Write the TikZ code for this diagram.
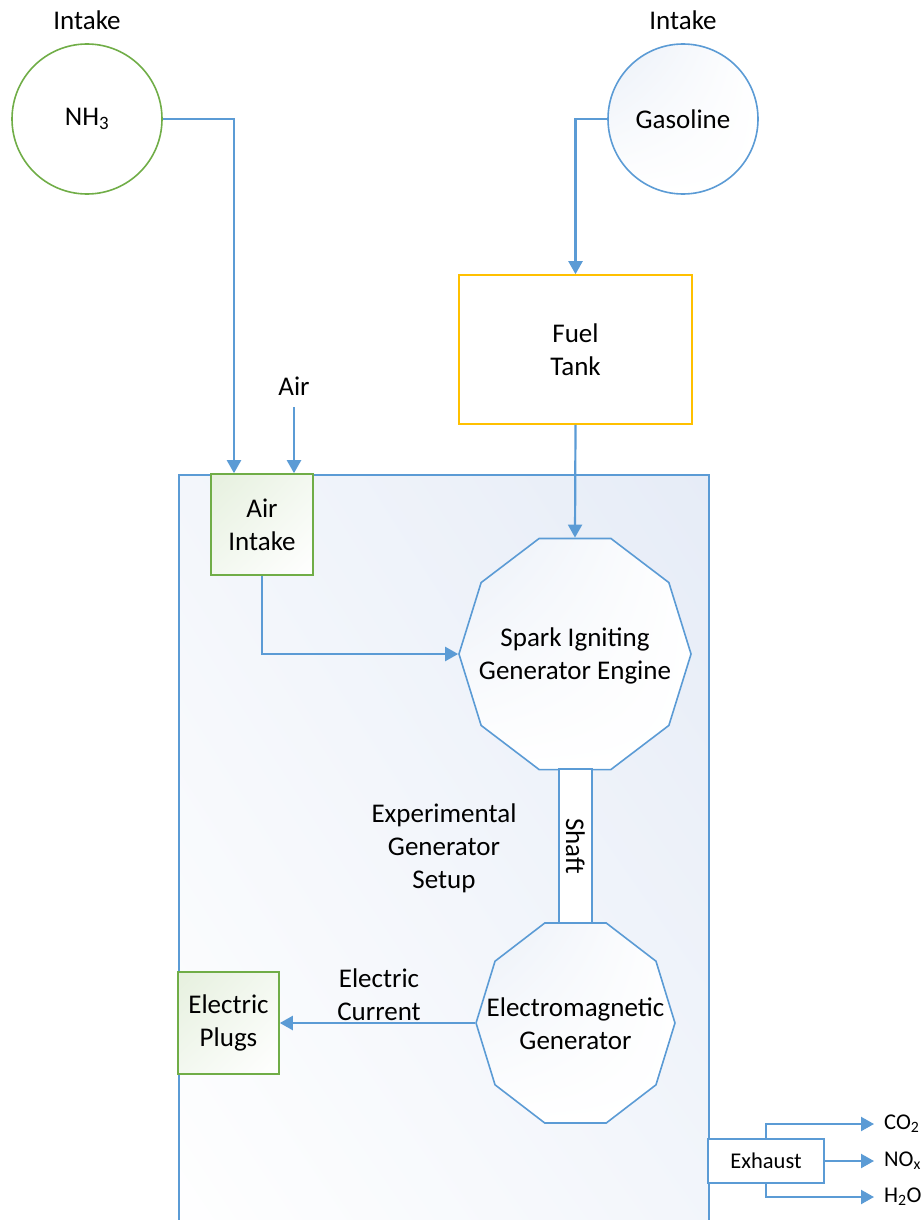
\documentclass[tikz,border=0pt]{standalone}
\usepackage{fontspec}
\setmainfont{Carlito}
\usetikzlibrary{arrows.meta,shapes.geometric,calc,shadings}
\definecolor{lblue}{HTML}{5B9BD5}
\definecolor{lgreen}{HTML}{70AD47}
\definecolor{lorange}{HTML}{FFC000}
\definecolor{bgblue}{HTML}{E6ECF7}
\definecolor{bgblueh}{HTML}{F3F6FB}
\definecolor{polyblue}{HTML}{EBF0F8}
\definecolor{bggreen}{HTML}{E6F0DE}
\definecolor{bggreenh}{HTML}{F3F8F0}
\begin{document}
\begin{tikzpicture}[x=1pt,y=-1pt,
  font=\fontsize{27}{33}\selectfont,
  conn/.style={draw=lblue, line width=2.2pt, -{Triangle[length=13pt,width=14pt]}},
  bluebox/.style={draw=lblue, line width=1.6pt},
  greenbox/.style={draw=lgreen, line width=1.6pt, align=center,
     upper left=bggreen, upper right=bggreenh, lower left=bggreenh, lower right=white},
  poly/.style={regular polygon, regular polygon sides=10, draw=lblue, line width=1.6pt,
     inner sep=0pt, upper left=polyblue, upper right=white, lower left=white, lower right=white},
  small/.style={font=\fontsize{22.5}{27}\selectfont},
  lbl/.style={align=center, inner sep=0pt}]
\useasboundingbox (0,0) rectangle (923,1220);

% container
\node (setup) [bluebox, anchor=north west, minimum width=530pt, minimum height=790pt,
  upper right=bgblue, upper left=bgblueh, lower right=bgblueh, lower left=white, inner sep=0pt] at (178,474) {};

% intakes
\node (nh3) [circle, draw=lgreen, line width=1.6pt, minimum size=150pt, inner sep=0pt] at (87,119) {NH\textsubscript{3}};
\node (gas) [circle, bluebox, minimum size=150pt, inner sep=0pt,
  upper left=polyblue, upper right=white, lower left=white, lower right=white] at (683,119) {Gasoline};
\node (in1) [lbl] at (87,20) {Intake};
\node (in2) [lbl] at (683,20) {Intake};

% fuel tank
\node (ft) [draw=lorange, line width=1.6pt, minimum width=233pt, minimum height=149pt, align=center, fill=white] at (575.5,349.5) {Fuel\\Tank};

% air intake
\node (ai) [greenbox, minimum width=102pt, minimum height=101pt] at (262,524.5) {Air\\Intake};
\node (airl) [lbl] at (294,386) {Air};
\coordinate (airsrc) at (294,407);

% engine
\begin{scope}[shift={(575,654)}]
\node (eng) [poly, minimum size=243pt, xscale=0.955, transform shape] at (0,0) {};
\end{scope}
\node [lbl] at (575,656) {Spark Igniting\\Generator Engine};

% generator
\begin{scope}[shift={(575.5,1023)}]
\node (gen) [poly, minimum size=210.3pt, xscale=0.946, transform shape] at (0,0) {};
\end{scope}
\node [lbl] at (575.5,1024) {Electromagnetic\\Generator};

% shaft
\node (shaft) [bluebox, fill=white, minimum width=33pt, minimum height=154pt, inner sep=0pt] at (575.5,846) {};
\node [rotate=-90, inner sep=0pt] at (shaft) {Shaft};

\node [lbl] at (444,848) {Experimental\\Generator\\Setup};

% electric plugs
\node (ep) [greenbox, minimum width=101pt, minimum height=102pt] at (228.5,1023) {Electric\\Plugs};
\node [lbl] at (379,995) {Electric\\Current};

% exhaust
\node (ex) [bluebox, fill=white, small, minimum width=116pt, minimum height=44pt, inner sep=0pt] at (766,1161) {Exhaust};
\node (co2) [small, anchor=west, inner xsep=10pt, inner ysep=0pt] at (874,1124) {CO\textsubscript{2}};
\node (nox) [small, anchor=west, inner xsep=10pt, inner ysep=0pt] at (874,1161) {NO\textsubscript{x}};
\node (h2o) [small, anchor=west, inner xsep=10pt, inner ysep=0pt] at (874,1197) {H\textsubscript{2}O};

% connectors
\draw [conn] (nh3.east) -| ($(ai.north)+(-28,0)$);
\draw [conn] (airsrc) -- (airsrc |- ai.north);
\draw [conn] (gas.west) -| (ft.north);
\draw [conn] (ft.south) -- (eng.north);
\draw [conn] (ai.south) |- (eng.west);
\draw [conn] (gen.west) -- (ep.east);
\draw [conn] (ex.north) |- (co2.west);
\draw [conn] (ex.east) -- (nox.west);
\draw [conn] (ex.south) |- (h2o.west);
\end{tikzpicture}
\end{document}
